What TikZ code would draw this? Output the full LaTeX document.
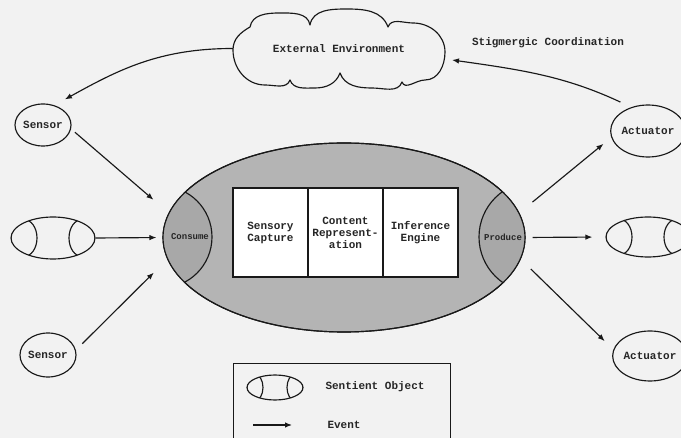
\documentclass[tikz,border=0pt]{standalone}
\usepackage{fontspec}
\setmonofont{Liberation Mono}
\usetikzlibrary{shapes.geometric,arrows.meta}

\definecolor{paper}{RGB}{242,242,242}
\definecolor{shell}{RGB}{180,180,180}
\definecolor{port}{RGB}{168,168,168}

\tikzset{
  ink/.style={line width=1.15pt, draw=black!90},
  lbl/.style={font=\ttfamily\bfseries\fontsize{11}{12}\selectfont, text=black!85},
  small/.style={font=\ttfamily\bfseries\fontsize{9}{10}\selectfont, text=black!85},
  ev/.style={ink, -{Latex[length=7pt,width=5.5pt]}},
  blob/.style={ellipse, ink, inner sep=0pt, lbl},
  stage/.style={rectangle, ink, fill=white, minimum width=75pt, minimum height=89pt,
                align=center, inner sep=0pt, lbl},
  % sentient object: outer ellipse with two side lobes
  % args: width, height, lobe x-radius, lobe y-radius
  pics/sentient/.style n args={4}{code={
    \node[ellipse, ink, minimum width=#1pt, minimum height=#2pt, inner sep=0pt] (-o) at (0,0) {};
    \begin{scope}
      \clip (0,0) ellipse ({#1/2*1pt} and {#2/2*1pt});
      \draw[ink] ({-(#1/2-#3)},0) ellipse (#3pt and #4pt);
      \draw[ink] ({#1/2-#3},0) ellipse (#3pt and #4pt);
    \end{scope}
  }},
}

\begin{document}
\begin{tikzpicture}[x=1pt,y=-1pt]
  \useasboundingbox (0,0) rectangle (681,438);
  \fill[paper] (0,0) rectangle (681,438);
  \clip (0,0) rectangle (681,438);

  % environment: cloud outline round an elliptic anchor node
  \node[ellipse, minimum width=212pt, minimum height=77pt, inner sep=0pt, lbl] (env) at (339,48.5) {External Environment};
  \draw[ink, line join=round]
    (250,27) to[out=80,in=180] (279,13) to[out=0,in=100] (310,25)
    to[out=80,in=180] (347,9) to[out=0,in=110] (388,27)
    to[out=70,in=180] (413,23) to[out=0,in=90] (445,52)
    to[out=-90,in=0] (425,80) to[out=180,in=-70] (402,82)
    to[out=-110,in=0] (372,88) to[out=180,in=-70] (340,73)
    to[out=-110,in=0] (315,88) to[out=180,in=-70] (290,80)
    to[out=-110,in=0] (265,85) to[out=180,in=-90] (233,50)
    to[out=90,in=-150] cycle;
  \coordinate (envport) at (452,60);
  \node[lbl] (stig) at (548,43) {Stigmergic Coordination};

  % sensors and actuators
  \node[blob, minimum width=54pt, minimum height=42pt] (S1) at (43,125) {Sensor};
  \node[blob, minimum width=52pt, minimum height=44pt] (S2) at (48,355) {Sensor};
  \node[blob, minimum width=56pt, minimum height=52pt] (A1) at (648,131) {Actuator};
  \node[blob, minimum width=56pt, minimum height=50pt] (A2) at (650,356) {Actuator};

  % neighbouring sentient objects
  \pic (L) at (53,238) {sentient={84}{42}{13}{18.5}};
  \pic (R) at (648,237) {sentient={84}{40}{13}{18}};

  % the sentient object itself
  \node[ellipse, ink, fill=shell, minimum width=362pt, minimum height=189pt, inner sep=0pt] (main) at (344,237.5) {};
  \begin{scope}
    \clip (main.center) ellipse (181pt and 94.5pt);
    \filldraw[ink, fill=port] (161,237) circle (51pt);
    \filldraw[ink, fill=port] (534.5,237) circle (55.5pt);
  \end{scope}
  \draw[ink] (main.center) ellipse (181pt and 94.5pt);
  \node[small] (cons) at (190,237) {Consume};
  \node[small] (prod) at (503,237) {Produce};

  \node[stage] (cap) at (270.5,232.5) {Sensory\\Capture};
  \node[stage] (rep) at (345.5,232.5) {Content\\Represent-\\ation};
  \node[stage] (inf) at (420.5,232.5) {Inference\\Engine};

  % events
  \draw[ev, shorten <=5pt, shorten >=20pt] (S1.-8) -- (main.172);
  \draw[ev, shorten >=6pt] (L-o.east) -- (main.west);
  \draw[ev, shorten <=9pt, shorten >=19pt] (S2.10) -- (main.187);
  \draw[ev, shorten <=17pt, shorten >=10pt] (main.8) -- (A1.190);
  \draw[ev, shorten <=7pt, shorten >=13pt] (main.east) -- (R-o.west);
  \draw[ev, shorten <=14pt, shorten >=12pt] (main.-7) -- (A2.170);
  \draw[ev, shorten >=12pt] (env.west) to[out=180, in=29] (S1.60);
  \draw[ev, shorten <=12pt] (A1.125) to[out=155, in=-8] (envport);

  % legend
  \node[ink, rectangle, minimum width=217pt, minimum height=90pt, anchor=north west, inner sep=0pt] (legend) at (233,363) {};
  \pic (K) at (275,387.5) {sentient={56}{25}{8}{13}};
  \node[lbl, anchor=west] (kso) at (322,387) {Sentient Object};
  \coordinate (ka) at (253,425);
  \coordinate (kb) at (292,425);
  \draw[ev] (ka) -- (kb);
  \node[lbl, anchor=west] (kev) at (324,425) {Event};
\end{tikzpicture}
\end{document}
